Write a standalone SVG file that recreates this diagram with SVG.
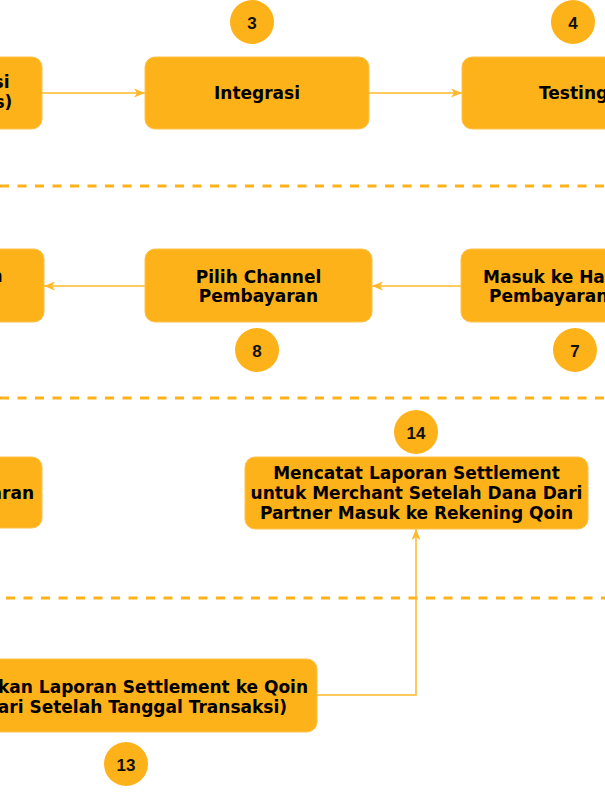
<svg xmlns="http://www.w3.org/2000/svg" width="605" height="806" viewBox="0 0 605 806">
<style>
.box{fill:#FEB21A;stroke:#FFC24A;stroke-width:1}
.lbl{font-family:"DejaVu Sans","Verdana",sans-serif;font-weight:bold;font-size:17px;fill:#000}
.num{font-family:"Liberation Sans","Arial",sans-serif;font-weight:bold;font-size:17px;fill:#111;text-anchor:middle}
.badge{fill:#FEB21A}
.sep{stroke:#FEB21A;stroke-width:3;stroke-dasharray:9 8.5;fill:none}
.conn{stroke:#FFB829;stroke-width:1.5;fill:none}
.mid{text-anchor:middle}
.end{text-anchor:end}
</style>
<defs>
<marker id="arr" markerUnits="userSpaceOnUse" markerWidth="12" markerHeight="10" refX="11" refY="5" orient="auto">
<path d="M0,0.5 L11,5 L0,9.5 L3,5 Z" fill="#FFB829"/>
</marker>
</defs>
<rect width="605" height="806" fill="#fff"/>
<g id="separators">
<line class="sep" x1="0" y1="186" x2="605" y2="186"/>
<line class="sep" x1="0" y1="398" x2="605" y2="398"/>
<line class="sep" x1="0" y1="598" x2="605" y2="598" stroke-dashoffset="-6"/>
</g>
<g id="connectors">
<line class="conn" x1="42" y1="93" x2="145" y2="93" marker-end="url(#arr)"/>
<line class="conn" x1="369" y1="93" x2="462" y2="93" marker-end="url(#arr)"/>
<line class="conn" x1="461" y1="286" x2="372" y2="286" marker-end="url(#arr)"/>
<line class="conn" x1="145" y1="286" x2="44" y2="286" marker-end="url(#arr)"/>
<polyline class="conn" points="317,695 416,695 416,529" marker-end="url(#arr)"/>
</g>
<g id="node-2">
<rect class="box" x="-180" y="57" width="222" height="72" rx="10"/>
<text class="lbl end" x="9.5" y="88">si</text>
<text class="lbl end" x="12.3" y="107.5">s)</text>
</g>
<g id="node-3">
<rect class="box" x="145" y="57" width="224" height="72" rx="10"/>
<text class="lbl mid" x="257" y="99">Integrasi</text>
</g>
<g id="node-4">
<rect class="box" x="462" y="57" width="224" height="72" rx="10"/>
<text class="lbl" x="539" y="99">Testing</text>
</g>
<g id="node-9">
<rect class="box" x="-180" y="249" width="224" height="73" rx="10"/>
<text class="lbl end" x="2.5" y="282">n</text>
</g>
<g id="node-8">
<rect class="box" x="145" y="249" width="227" height="73" rx="10"/>
<text class="lbl mid" x="258.5" y="282.5">Pilih Channel</text>
<text class="lbl mid" x="258.5" y="302">Pembayaran</text>
</g>
<g id="node-7">
<rect class="box" x="461" y="249" width="227" height="73" rx="10"/>
<text class="lbl" x="483" y="282.5">Masuk ke Ha</text>
<text class="lbl" x="489" y="302">Pembayaran</text>
</g>
<g id="node-row3-left">
<rect class="box" x="-182" y="457" width="224" height="71" rx="10"/>
<text class="lbl end" x="34" y="499">aran</text>
</g>
<g id="node-14">
<rect class="box" x="245" y="457" width="343" height="72" rx="10"/>
<text class="lbl mid" x="416.5" y="479">Mencatat Laporan Settlement</text>
<text class="lbl mid" x="416.5" y="499">untuk Merchant Setelah Dana Dari</text>
<text class="lbl mid" x="416.5" y="519">Partner Masuk ke Rekening Qoin</text>
</g>
<g id="node-13">
<rect class="box" x="-100" y="659" width="417" height="73" rx="10"/>
<text class="lbl end" x="308" y="693">kan Laporan Settlement ke Qoin</text>
<text class="lbl end" x="287" y="713">ari Setelah Tanggal Transaksi)</text>
</g>
<g id="badges">
<g id="badge-3"><circle class="badge" cx="252" cy="22" r="22"/><text class="num" x="252" y="28.5">3</text></g>
<g id="badge-4"><circle class="badge" cx="573" cy="22" r="22"/><text class="num" x="573" y="28.5">4</text></g>
<g id="badge-8"><circle class="badge" cx="257" cy="350" r="22"/><text class="num" x="257" y="356.5">8</text></g>
<g id="badge-7"><circle class="badge" cx="575" cy="350" r="22"/><text class="num" x="575" y="356.5">7</text></g>
<g id="badge-14"><circle class="badge" cx="416" cy="432" r="22"/><text class="num" x="416" y="438.5">14</text></g>
<g id="badge-13"><circle class="badge" cx="126" cy="764" r="22"/><text class="num" x="126" y="770.5">13</text></g>
</g>
</svg>
